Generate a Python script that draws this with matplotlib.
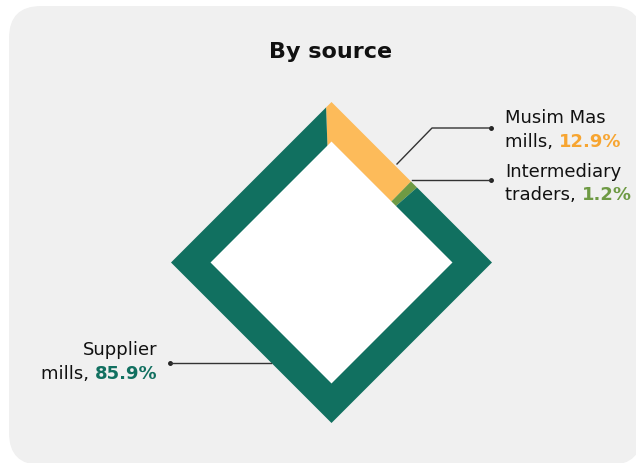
import numpy as np
from matplotlib import pyplot as plt
from matplotlib.patches import FancyBboxPatch, PathPatch
from matplotlib.path import Path

# chart values
sources = ["Musim Mas mills", "Intermediary traders", "Supplier mills"]
shares = [12.9, 1.2, 85.9]
first_lines = ["Musim Mas", "Intermediary", "Supplier"]
second_lines = ["mills, ", "traders, ", "mills, "]
value_labels = ["12.9%", "1.2%", "85.9%"]

band_colors = ["#fdbb5a", "#6e9a44", "#117060"]
value_colors = ["#f7a531", "#6e9a44", "#117060"]

W, H = 636, 464
fig = plt.figure(figsize=(W / 100, H / 100), dpi=100)
fig.patch.set_facecolor("white")

ax = fig.add_axes([0, 0, 1, 1])
ax.patch.set_alpha(0)


def py(y):
    # pixel row (top = 0) to data y
    return H - y


# rounded grey card behind everything
ax.add_patch(FancyBboxPatch((9, py(466)), 633, 459,
                            boxstyle="round,pad=0,rounding_size=32",
                            facecolor="#f0f0f0", edgecolor="none", zorder=0))

cx, cy = 331.5, py(263.5)
r_out, r_in = 160.5, 121.0


def diamond(r, reverse=False):
    pts = [(cx, cy + r), (cx - r, cy), (cx, cy - r), (cx + r, cy)]
    if reverse:
        pts = pts[::-1]
    return pts + [pts[0]]


ring = [Path.MOVETO] + [Path.LINETO] * 3 + [Path.CLOSEPOLY]

wedges, _ = ax.pie(shares, colors=band_colors, radius=260, center=(cx, cy),
                   startangle=92, counterclock=False,
                   wedgeprops=dict(linewidth=0, edgecolor="none"))

ax.set_xlim(0, W)
ax.set_ylim(0, H)
ax.set_aspect("auto")
ax.axis("off")

# white inner square and the band used to clip the pie
ax.add_patch(PathPatch(Path(diamond(r_in), ring), facecolor="white",
                       edgecolor="none", zorder=1))
band = PathPatch(Path(diamond(r_out) + diamond(r_in, reverse=True), ring * 2),
                 facecolor="none", edgecolor="none")
ax.add_patch(band)
for w in wedges:
    w.set_clip_on(True)
    w.set_clip_path(band)
    w.set_zorder(2)

ax.text(331, py(52), "By source", ha="center", va="center",
        fontsize=16, fontweight="bold", color="#111111")

# leader lines
line_kw = dict(color="#333333", lw=1.0, zorder=3)
ax.plot([397, 432, 491], [py(165), py(129), py(129)], **line_kw)
ax.plot([491], [py(129)], "o", color="#222222", ms=2.5)
ax.plot([412, 491], [py(181), py(181)], **line_kw)
ax.plot([491], [py(181)], "o", color="#222222", ms=2.5)
ax.plot([271, 170], [py(364), py(364)], **line_kw)
ax.plot([170], [py(364)], "o", color="#222222", ms=2.5)

fig.canvas.draw()
renderer = fig.canvas.get_renderer()
inv = ax.transData.inverted()

text_kw = dict(fontsize=13, color="#111111", va="center")

# right-hand labels
for i, (y1, y2) in zip([0, 1], [(118, 142), (172, 195)]):
    ax.text(505, py(y1), first_lines[i], ha="left", **text_kw)
    t = ax.text(505, py(y2), second_lines[i], ha="left", **text_kw)
    bb = t.get_window_extent(renderer)
    x_end = inv.transform((bb.x1, bb.y0))[0]
    ax.text(x_end, py(y2), value_labels[i], ha="left", fontsize=13,
            fontweight="bold", color=value_colors[i], va="center")

# left label
ax.text(157, py(350), first_lines[2], ha="right", **text_kw)
v = ax.text(157, py(374), value_labels[2], ha="right", fontsize=13,
            fontweight="bold", color=value_colors[2], va="center")
bb = v.get_window_extent(renderer)
x_start = inv.transform((bb.x0, bb.y0))[0]
ax.text(x_start, py(374), second_lines[2], ha="right", **text_kw)

fig.savefig("out.png", dpi=100, facecolor="white")
